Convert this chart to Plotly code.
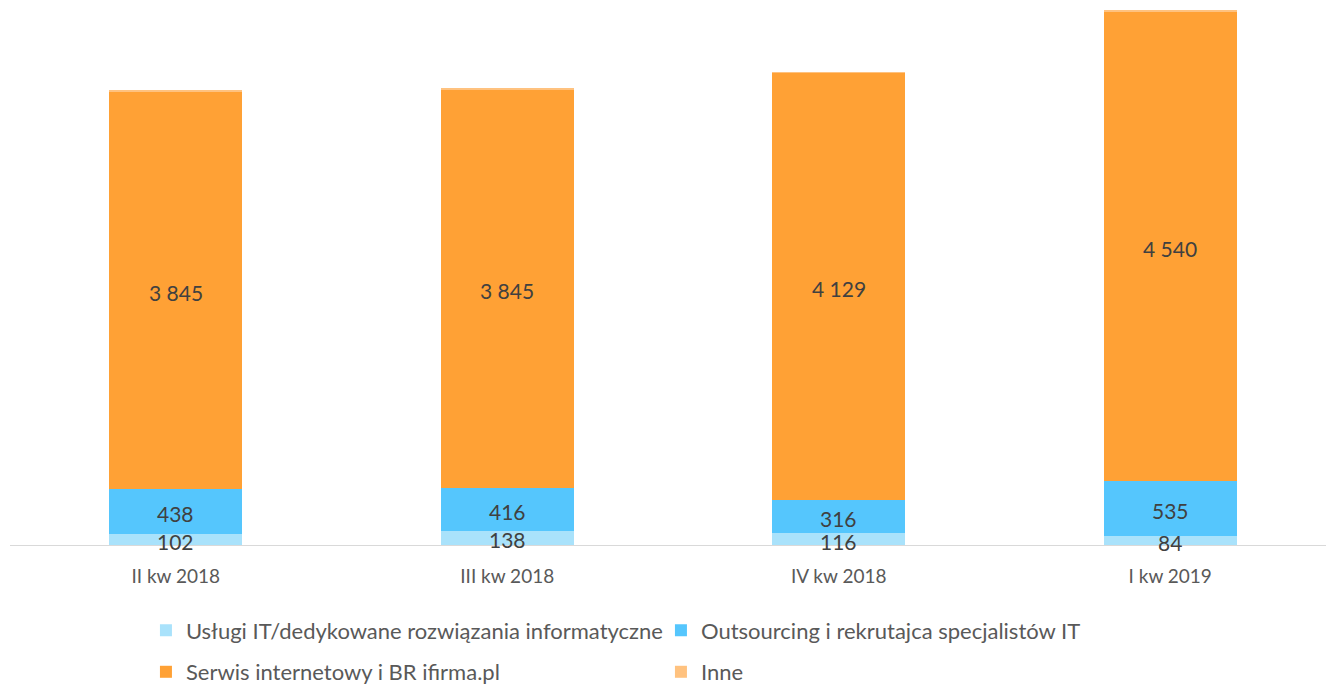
import plotly.graph_objects as go

categories = ["II kw 2018", "III kw 2018", "IV kw 2018", "I kw 2019"]
uslugi_it = [102, 138, 116, 84]
outsourcing = [438, 416, 316, 535]
serwis = [3845, 3845, 4129, 4540]
inne = [8, 8, 8, 8]

series = [
    ("Usługi IT/dedykowane rozwiązania informatyczne", uslugi_it, "#A9E2FB", True, "legend"),
    ("Outsourcing i rekrutajca specjalistów IT", outsourcing, "#55C6FD", True, "legend"),
    ("Serwis internetowy i BR ifirma.pl", serwis, "#FFA135", True, "legend2"),
    ("Inne", inne, "#FFC27F", False, "legend2"),
]

FONT = "Lato"

def fmt(v):
    return f"{v:,}".replace(",", "\u00a0")

fig = go.Figure()
base = [0] * len(categories)
for name, vals, color, show, leg in series:
    fig.add_trace(go.Bar(
        name=name, x=categories, y=vals,
        marker=dict(color=color, line=dict(width=0)),
        width=0.4, hoverinfo="skip", legend=leg,
    ))
    if show:
        for cat, b, v in zip(categories, base, vals):
            fig.add_annotation(
                x=cat, y=b + v / 2, xref="x", yref="y",
                text=fmt(v), showarrow=False, yshift=-2,
                font=dict(family=FONT, size=21, color="#404040"),
            )
    base = [b + v for b, v in zip(base, vals)]

legend_common = dict(orientation="h", xanchor="left", yanchor="middle",
                     entrywidth=470, entrywidthmode="pixels",
                     font=dict(family=FONT, size=22, color="#595959"),
                     traceorder="normal", bgcolor="rgba(0,0,0,0)")

fig.update_layout(
    barmode="stack",
    width=1326, height=686,
    margin=dict(l=10, r=0, t=0, b=141, autoexpand=False),
    plot_bgcolor="white", paper_bgcolor="white",
    font=dict(family=FONT, color="#595959", size=19),
    xaxis=dict(range=[-0.5, 3.47], showline=True, linecolor="#D9D9D9", linewidth=1,
               ticks="", ticklabelstandoff=14,
               tickfont=dict(family=FONT, size=19, color="#595959")),
    yaxis=dict(range=[0, 5266], visible=False),
    legend=dict(x=0.1033, y=-0.157, **legend_common),
    legend2=dict(x=0.1033, y=-0.233, **legend_common),
    showlegend=True,
)
fig.write_html("out.html")
